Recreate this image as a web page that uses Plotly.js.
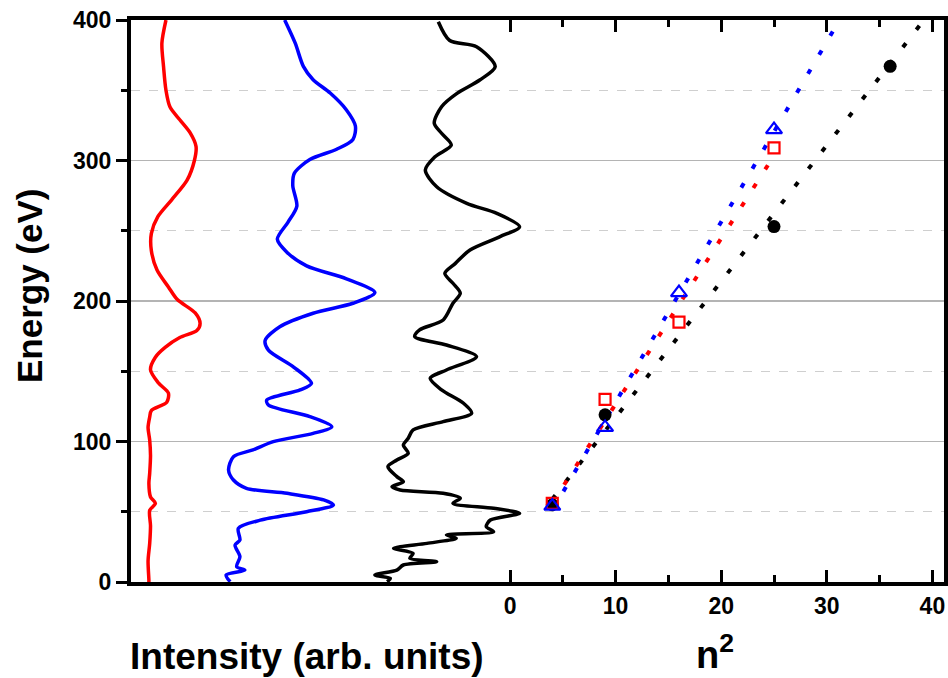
<!DOCTYPE html>
<html>
<head>
<meta charset="utf-8">
<script src="https://cdn.plot.ly/plotly-3.0.1.min.js"></script>
<style>html,body{margin:0;padding:0;background:#fff;}#chart{width:948px;height:678px;}</style>
</head>
<body>
<div id="chart"></div>
<script>
// Spectra (energy in eV, intensity in arb. units)
var redEnergy = [400,383.5,367,350,338,329,319.5,310,300,286,272,260,248,236,222,210,201,191.5,184,179,174,167,160,151,141.5,134.5,128,122,117.5,110,101,90,77.5,70,60.5,56,51,40,27.5,15,1.5,0];
var redIntensity = [4.3,3.8,4.0,4.3,4.8,6.0,7.3,8.0,7.8,6.9,5.0,3.3,2.5,2.5,3.2,4.6,5.7,7.9,8.5,8.1,6.0,4.2,3.0,2.4,3.4,4.6,4.4,2.5,2.3,2.1,2.3,2.4,2.3,2.2,2.4,3.0,2.3,2.4,2.3,2.1,2.2,2.2];

var blueEnergy = [400,383.5,367,357.5,348,336,324.5,315,308,300.7,291,282,267.5,256,244,234.6,225,215.8,206,198.4,191.3,181.7,172,165,153,141.4,136.7,129.5,126,117.7,110.5,105.8,99.9,94,89.2,79.7,72.6,66.7,63.1,58.4,54.8,50,44,38.2,29.9,26.3,18,10.9,8.5,5,0.2];
var blueIntensity = [18.9,20.2,21.2,22.4,24.5,26.5,27.6,27.3,25.3,22.0,20.1,19.9,20.4,19.3,18.0,19.2,21.6,26.5,30.0,27.3,22.4,18.3,16.5,16.9,20.0,22.2,20.8,16.7,16.9,22.0,24.7,22.4,17.5,15.0,12.6,12.0,12.6,14.2,19.2,23.7,24.9,21.6,15.9,13.2,13.4,12.8,13.4,13.0,14.0,11.7,12.2];

var blackEnergy = [398.8,385.4,381,366.8,357.3,347.8,338.3,326.5,319.4,311,302.7,293.2,281.3,269.5,262.4,252.9,245.8,236.3,226.8,219.7,212.6,205.5,198.4,186.5,179.4,174.6,168.7,160.4,150.9,145,136.7,127.2,120.1,114.1,108.2,102.3,97.5,91.6,86.8,82.1,75,71.4,67.8,65.5,63.1,59.6,56,52.5,48.9,44.1,39.4,35.8,33.5,31.1,27.5,24,20.4,16.9,14.4,12.1,8.5,5,2.6,0.2];
var blackIntensity = [37.8,39.2,42.5,44.8,42.9,40.1,38.2,37.3,38.2,39.4,37.4,36.2,37.6,41.3,45.0,47.8,45.4,41.7,39.9,38.6,39.6,40.5,39.6,38.4,35.5,34.9,38.8,42.5,38.8,36.8,38.2,40.9,41.9,38.4,34.7,34.1,33.5,34.1,32.7,31.6,32.7,33.5,32.1,33.1,38.4,40.5,39.6,44.6,47.8,44.2,43.7,44.6,38.8,40.0,36.4,32.3,34.7,34.3,37.6,33.5,32.7,30.0,31.9,31.5];

// n^2 vs energy peak positions
var nSqBlack = [4, 9, 25, 36];
var eBlack = [55, 119, 253, 367];
var nSqRed = [4, 9, 16, 25];
var eRed = [56, 130, 185, 309];
var nSqBlue = [4, 9, 16, 25];
var eBlue = [54, 110, 206, 322];

// dotted linear fits (end points)
var fitBlackX = [4, 39.2], fitBlackY = [59, 400];
var fitRedX = [4, 25], fitRedY = [56, 303.5];
var fitBlueX = [4, 31.2], fitBlueY = [51, 400];

var xTicks = [0, 10, 20, 30, 40];
var xMinorTicks = [5, 15, 25, 35];
var yTicks = [0, 100, 200, 300, 400];

var FONT = 'Liberation Sans, Arial, sans-serif';
var specLine = function(x, y, c){
  return {x: x, y: y, xaxis: 'x2', yaxis: 'y', mode: 'lines', type: 'scatter',
    line: {color: c, width: 3.5, shape: 'spline', smoothing: 0.8}, hoverinfo: 'skip', showlegend: false};
};
var fitLine = function(x, y, c){
  return {x: x, y: y, mode: 'lines', type: 'scatter',
    line: {color: c, width: 4, dash: '5px,17px'}, showlegend: false};
};

var data = [
  specLine(redIntensity, redEnergy, '#ff0000'),
  specLine(blueIntensity, blueEnergy, '#0000ff'),
  specLine(blackIntensity, blackEnergy, '#000000'),
  fitLine(fitBlackX, fitBlackY, '#000000'),
  fitLine(fitRedX, fitRedY, '#ff0000'),
  fitLine(fitBlueX, fitBlueY, '#0000ff'),
  {x: nSqBlack, y: eBlack, mode: 'markers', type: 'scatter', showlegend: false,
   marker: {symbol: 'circle', size: 13, color: '#000000'}},
  {x: nSqRed, y: eRed, mode: 'markers', type: 'scatter', showlegend: false,
   marker: {symbol: 'square-open', size: 11, color: '#ff0000', line: {width: 2.2, color: '#ff0000'}}},
  {x: nSqBlue, y: eBlue, mode: 'markers', type: 'scatter', showlegend: false,
   marker: {symbol: 'triangle-up-open', size: 14, color: '#0000ff', line: {width: 2.2, color: '#0000ff'}}}
];

var layout = {
  width: 948, height: 678,
  margin: {l: 131, r: 4, t: 20, b: 96},
  paper_bgcolor: '#ffffff', plot_bgcolor: '#ffffff',
  font: {family: FONT, color: '#000'},
  xaxis: {
    range: [-35.9, 41.1], tickmode: 'array', tickvals: xTicks, ticktext: xTicks.map(String),
    ticks: 'inside', ticklen: 12, tickwidth: 3, tickcolor: '#000',
    showline: true, linewidth: 4, linecolor: '#000', mirror: 'allticks',
    showgrid: false, zeroline: false,
    tickfont: {family: FONT, size: 23, weight: 'bold', color: '#000'},
    minor: {tickmode: 'array', tickvals: xMinorTicks, ticks: 'inside', ticklen: 7, tickwidth: 3, tickcolor: '#000', showgrid: false}
  },
  xaxis2: {overlaying: 'x', range: [0, 100], visible: false, showgrid: false, zeroline: false},
  yaxis: {
    range: [0, 400], tickmode: 'array', tickvals: yTicks,
    ticks: 'outside', ticklen: 11, tickwidth: 3, tickcolor: '#000',
    showline: true, linewidth: 4, linecolor: '#000', mirror: true,
    showgrid: true, gridcolor: '#b4b4b4', gridwidth: 1.5, zeroline: false,
    tickfont: {family: FONT, size: 23, weight: 'bold', color: '#000'},
    minor: {dtick: 50, ticks: 'outside', ticklen: 6, tickwidth: 3, tickcolor: '#000',
            showgrid: true, gridcolor: '#cfcfcf', gridwidth: 1, griddash: 'dash'}
  },
  annotations: [
    {text: 'Energy (eV)', xref: 'paper', yref: 'paper', x: -0.124, y: 0.527, textangle: -90,
     showarrow: false, xanchor: 'center', yanchor: 'middle',
     font: {family: FONT, size: 35, weight: 'bold', color: '#000'}},
    {text: 'Intensity (arb. units)', xref: 'paper', yref: 'paper', x: 0.2165, y: -0.132,
     showarrow: false, xanchor: 'center', yanchor: 'middle',
     font: {family: FONT, size: 37, weight: 'bold', color: '#000'}},
    {text: 'n<sup>2</sup>', xref: 'paper', yref: 'paper', x: 0.718, y: -0.125,
     showarrow: false, xanchor: 'center', yanchor: 'middle',
     font: {family: FONT, size: 38, weight: 'bold', color: '#000'}}
  ]
};

Plotly.newPlot('chart', data, layout, {displayModeBar: false, staticPlot: true});
</script>
</body>
</html>
